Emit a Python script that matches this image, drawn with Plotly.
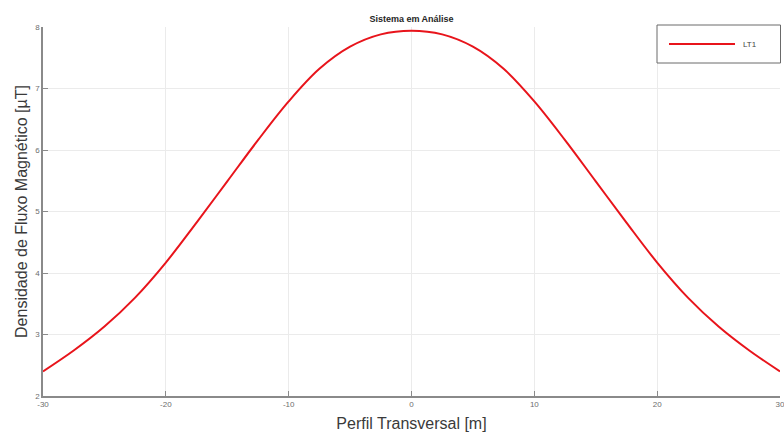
import plotly.graph_objects as go

# Data
perfil_m = [-30, -27.5, -25, -22.5, -20, -17.5, -15, -12.5, -10, -7.5, -5, -2.5, 0,
            2.5, 5, 7.5, 10, 12.5, 15, 17.5, 20, 22.5, 25, 27.5, 30]
densidade_uT = [2.40, 2.74, 3.13, 3.60, 4.17, 4.82, 5.49, 6.16, 6.79, 7.32, 7.68, 7.88, 7.94,
                7.88, 7.68, 7.32, 6.79, 6.16, 5.49, 4.82, 4.17, 3.60, 3.13, 2.74, 2.40]
serie_nome = "LT1"

x_ticks = [-30, -20, -10, 0, 10, 20, 30]
x_ticklabels = ["-30", "-20", "-10", "0", "10", "20", "30"]
y_ticks = [2, 3, 4, 5, 6, 7, 8]
y_ticklabels = ["2", "3", "4", "5", "6", "7", "8"]

FONT = "Liberation Sans, Arial, sans-serif"
AXIS_COL = "#8a8a8a"
GRID_COL = "#ebebeb"

# plot area on screen: x 43..780, y 27..396 (page margin removed below)
W, H = 784, 437
L, T = 43, 27
R = W - 780
B = H - 396
PW, PH = W - L - R, H - T - B


def px(xs):
    return (xs - L) / PW


def py(ys):
    return (H - B - ys) / PH


fig = go.Figure()
fig.add_trace(go.Scatter(
    x=perfil_m, y=densidade_uT, mode="lines", name=serie_nome,
    line=dict(color="#e8141b", width=2, shape="spline", smoothing=1.0),
    showlegend=False,
))

fig.update_layout(
    width=W, height=H,
    margin=dict(l=L, r=R, t=T, b=B, autoexpand=False),
    paper_bgcolor="white", plot_bgcolor="white",
    font=dict(family=FONT, color="#262626"),
    title=dict(text="<b>Sistema em Análise</b>", x=0.5, xref="paper", xanchor="center",
               y=1, yref="paper", yanchor="bottom", pad=dict(b=5),
               font=dict(size=9, color="#262626", family=FONT)),
    xaxis=dict(range=[-30, 30], tickvals=x_ticks, ticktext=x_ticklabels,
               showgrid=True, gridcolor=GRID_COL, gridwidth=1, zeroline=False,
               showline=True, linecolor=AXIS_COL, linewidth=1.5, mirror=False,
               ticks="inside", ticklen=5, tickcolor=AXIS_COL, tickwidth=1,
               automargin=False, ticklabeloverflow="allow",
               tickfont=dict(size=8, color="#6e6e6e", family=FONT),
               title=dict(text="Perfil Transversal [m]", standoff=9,
                          font=dict(size=16, color="#3a3a3a", family=FONT))),
    yaxis=dict(range=[2, 8], tickvals=y_ticks, ticktext=y_ticklabels,
               showgrid=True, gridcolor=GRID_COL, gridwidth=1, zeroline=False,
               showline=True, linecolor=AXIS_COL, linewidth=1.5, mirror=False,
               ticks="inside", ticklen=5, tickcolor=AXIS_COL, tickwidth=1,
               automargin=False,
               tickfont=dict(size=8, color="#6e6e6e", family=FONT),
               title=dict(text="Densidade de Fluxo Magnético [µT]", standoff=4,
                          font=dict(size=16, color="#3a3a3a", family=FONT))),
    shapes=[
        dict(type="rect", xref="paper", yref="paper",
             x0=px(657), x1=px(780.5), y0=py(63), y1=py(25),
             line=dict(color="#6a6a6a", width=1), fillcolor="white", layer="above"),
        dict(type="line", xref="paper", yref="paper",
             x0=px(669), x1=px(735), y0=py(44), y1=py(44),
             line=dict(color="#e8141b", width=2), layer="above"),
    ],
    annotations=[
        dict(text=serie_nome, xref="paper", yref="paper",
             x=px(741), y=py(44), xanchor="left", yanchor="middle",
             showarrow=False, font=dict(size=8, color="#444444", family=FONT)),
    ],
)

fig.write_html("out.html",
               config={"displayModeBar": False},
               post_script="document.body.style.margin='0';document.body.style.overflow='hidden';")
